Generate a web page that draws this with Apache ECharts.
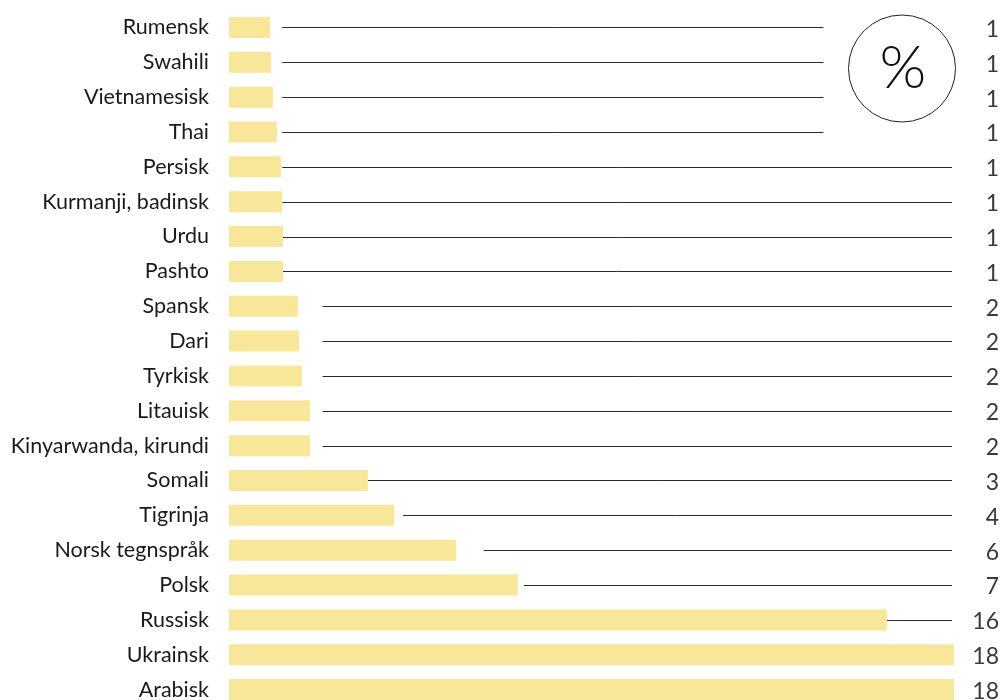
<!DOCTYPE html>
<html>
<head>
<meta charset="utf-8">
<script src="https://cdn.jsdelivr.net/npm/echarts@6/dist/echarts.min.js"></script>
<style>
  html, body { margin: 0; padding: 0; background: #fff; }
  #chart { width: 1001px; height: 700px; }
</style>
</head>
<body>
<div id="chart"></div>
<script>
// språk, ovenfra og ned
const languages = ["Rumensk", "Swahili", "Vietnamesisk", "Thai", "Persisk", "Kurmanji, badinsk", "Urdu", "Pashto",
  "Spansk", "Dari", "Tyrkisk", "Litauisk", "Kinyarwanda, kirundi", "Somali", "Tigrinja", "Norsk tegnspråk",
  "Polsk", "Russisk", "Ukrainsk", "Arabisk"];
// prosent (lest av stolpene)
const shares = [1.02, 1.04, 1.09, 1.19, 1.29, 1.32, 1.34, 1.34,
  1.71, 1.74, 1.81, 2.01, 2.01, 3.45, 4.1, 5.64,
  7.17, 16.33, 18, 18];
// avrundet tall som vises til høyre
const shownValues = [1, 1, 1, 1, 1, 1, 1, 1, 2, 2, 2, 2, 2, 3, 4, 6, 7, 16, 18, 18];

const FONT = "Lato, 'Noto Sans', sans-serif";
// prosent-merket oppe til høyre
const badge = { cx: 902, cy: 68.5, r: 53.5 };

let myChart = echarts.init(document.getElementById("chart"));

let lineData = languages.map((name, i) => [i, shares[i], shownValues[i]]);

myChart.setOption({
  animation: false,
  grid: { left: 229, right: 47, top: 10, height: 697, outerBoundsMode: "none", containLabel: false },
  xAxis: {
    type: "value",
    min: 0,
    max: 18,
    show: false
  },
  yAxis: {
    type: "category",
    data: languages,
    inverse: true,
    axisLine: { show: false },
    axisTick: { show: false },
    axisLabel: {
      margin: 20,
      fontSize: 21.5,
      fontFamily: FONT,
      color: "#1a1a1a",
      padding: [0, 0, 6, 0]
    }
  },
  graphic: [
    {
      type: "circle",
      shape: { cx: badge.cx, cy: badge.cy, r: badge.r },
      style: { fill: "#fff", stroke: "#222", lineWidth: 1 }
    },
    {
      type: "text",
      x: badge.cx + 1,
      y: badge.cy,
      style: {
        text: "%",
        fontSize: 60,
        fontWeight: 300,
        fontFamily: FONT,
        fill: "#111",
        align: "center",
        verticalAlign: "middle"
      }
    }
  ],
  series: [
    {
      type: "bar",
      data: shares,
      barWidth: 21,
      itemStyle: { color: "#f9e799" },
      silent: true
    },
    {
      // linje fra stolpen til tallet + tallet
      type: "custom",
      data: lineData,
      encode: { x: 1, y: 0 },
      silent: true,
      renderItem: (params, api) => {
        let idx = api.value(0);
        let barEnd = api.coord([api.value(1), idx]);
        let y = barEnd[1];
        let start = Math.max(barEnd[0], api.coord([api.value(2), idx])[0] + 13);
        let end = params.coordSys.x + params.coordSys.width - 2;
        if (y - badge.cy < badge.r + 20) {
          end = badge.cx - badge.r - 25;
        }
        let children = [];
        if (start < end) {
          children.push({
            type: "line",
            shape: { x1: start, y1: Math.round(y) + 0.5, x2: end, y2: Math.round(y) + 0.5 },
            style: { stroke: "#2a2a33", lineWidth: 1 }
          });
        }
        children.push({
          type: "text",
          x: api.getWidth() - 2,
          y: y + 2,
          style: {
            text: String(api.value(2)),
            fontSize: 23,
            fontFamily: FONT,
            fill: "#3a3a3a",
            align: "right",
            verticalAlign: "middle"
          }
        });
        return { type: "group", children: children };
      }
    }
  ]
});
</script>
</body>
</html>
